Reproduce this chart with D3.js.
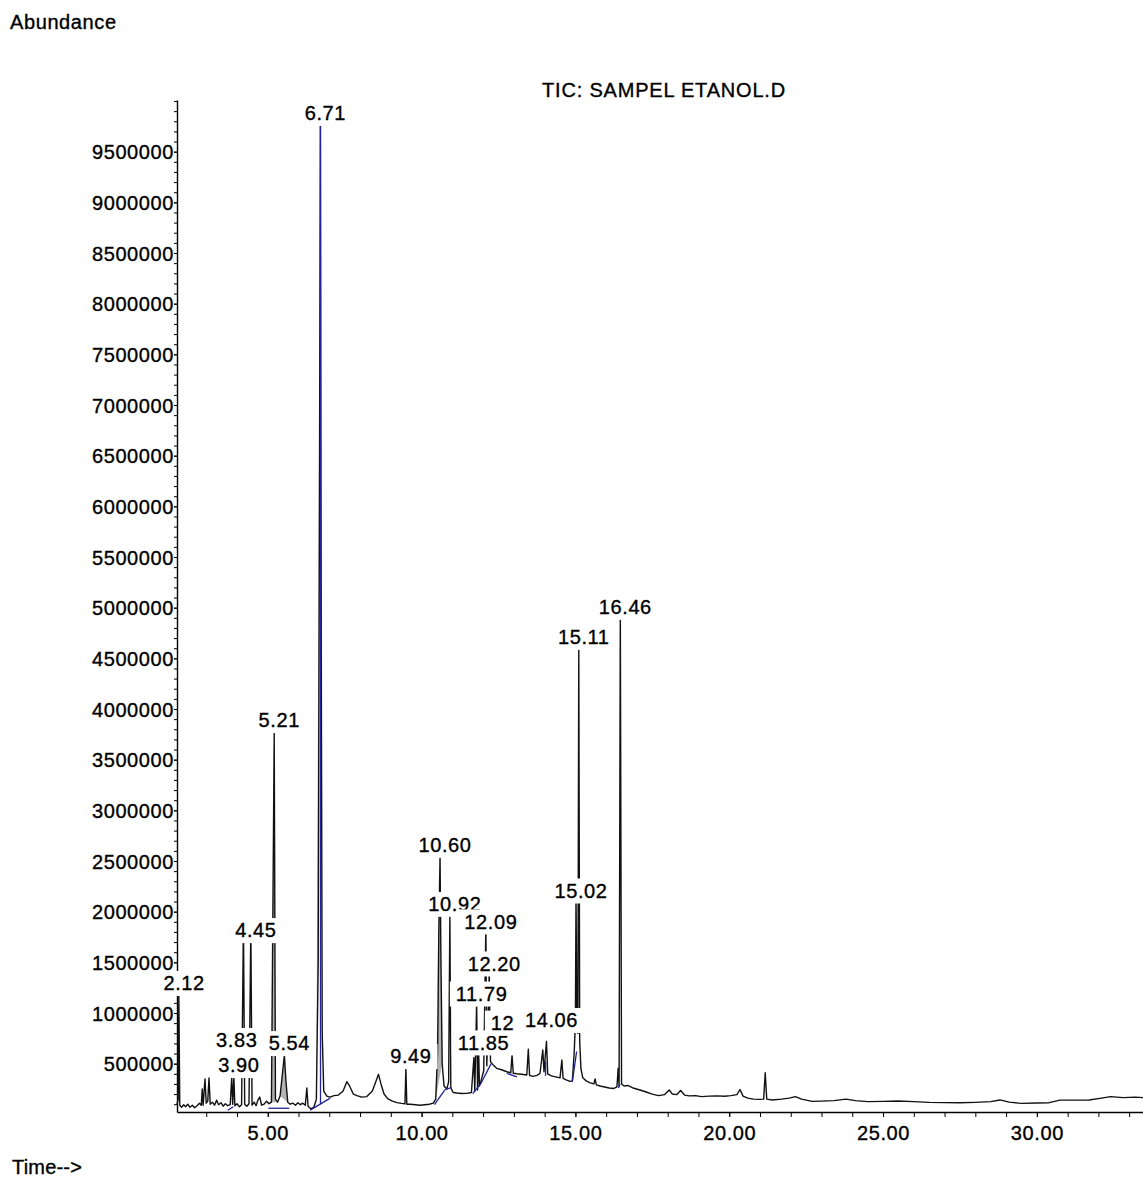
<!DOCTYPE html>
<html>
<head>
<meta charset="utf-8">
<script src="https://cdn.jsdelivr.net/npm/d3@7/dist/d3.min.js"></script>
<style>
  body { margin: 0; background: #fff; }
  svg text { font-family: "Liberation Sans", Arial, sans-serif; fill: #000; stroke: #000; stroke-width: 0.35px; }
</style>
</head>
<body>
<script>
// chromatogram trace (time in min, abundance)
const traceTime = [
  2.05, 2.09, 2.11, 2.14, 2.20, 2.27, 2.33, 2.40, 2.47, 2.55, 2.62, 2.70, 2.78, 2.84, 2.87, 2.90,
  2.96, 3.00, 3.05, 3.09, 3.13, 3.20, 3.27, 3.34, 3.40, 3.48, 3.55, 3.62, 3.70, 3.78, 3.83, 3.86,
  3.90, 3.93, 4.00, 4.08, 4.15, 4.21, 4.25, 4.32, 4.39, 4.45, 4.49, 4.56, 4.62, 4.68, 4.74, 4.80,
  4.88, 4.96, 5.04, 5.12, 5.21, 5.25, 5.32, 5.40, 5.47, 5.54, 5.59, 5.65, 5.73, 5.82, 5.90, 5.98,
  6.06, 6.14, 6.22, 6.27, 6.31, 6.40, 6.50, 6.58, 6.64, 6.68, 6.71, 6.74, 6.77, 6.82, 6.92, 7.03,
  7.15, 7.30, 7.45, 7.57, 7.66, 7.78, 7.90, 8.05, 8.22, 8.40, 8.52, 8.60, 8.68, 8.78, 8.90, 9.05,
  9.20, 9.35, 9.46, 9.49, 9.52, 9.63, 9.80, 9.95, 10.10, 10.25, 10.38, 10.46, 10.52, 10.56, 10.60, 10.63,
  10.67, 10.73, 10.82, 10.88, 10.92, 10.95, 11.03, 11.15, 11.30, 11.47, 11.62, 11.70, 11.73, 11.79, 11.82, 11.85,
  11.88, 11.95, 12.02, 12.09, 12.12, 12.20, 12.24, 12.32, 12.44, 12.60, 12.77, 12.90, 12.94, 12.98, 13.10, 13.25,
  13.42, 13.47, 13.51, 13.62, 13.75, 13.85, 13.94, 13.98, 14.06, 14.10, 14.22, 14.36, 14.50, 14.56, 14.60, 14.70,
  14.82, 14.90, 14.96, 15.00, 15.02, 15.05, 15.08, 15.11, 15.14, 15.18, 15.24, 15.35, 15.48, 15.60, 15.64, 15.68,
  15.80, 15.95, 16.10, 16.25, 16.35, 16.39, 16.42, 16.46, 16.50, 16.58, 16.70, 16.90, 17.10, 17.30, 17.50, 17.70,
  17.90, 18.05, 18.15, 18.30, 18.42, 18.55, 18.70, 18.90, 19.10, 19.35, 19.60, 19.85, 20.05, 20.25, 20.35, 20.45,
  20.60, 20.80, 21.00, 21.12, 21.17, 21.22, 21.40, 21.70, 21.95, 22.15, 22.35, 22.70, 23.00, 23.40, 23.80, 24.10,
  24.50, 25.00, 25.50, 26.00, 26.50, 27.00, 27.50, 28.00, 28.50, 28.80, 29.10, 29.50, 30.00, 30.40, 30.75, 31.20,
  31.70, 32.10, 32.40, 32.80, 33.20, 33.45
];
const traceAbundance = [
  100000, 150000, 1170000, 90000, 70000, 95000, 75000, 100000, 70000, 90000, 65000, 85000, 110000, 90000, 250000, 90000,
  350000, 110000, 130000, 360000, 100000, 120000, 90000, 140000, 95000, 115000, 80000, 105000, 85000, 95000, 370000, 100000,
  360000, 85000, 105000, 75000, 95000, 1900000, 100000, 80000, 105000, 1850000, 90000, 120000, 85000, 140000, 170000, 90000,
  100000, 130000, 105000, 120000, 3766000, 150000, 120000, 180000, 380000, 585000, 330000, 120000, 100000, 110000, 90000, 115000,
  95000, 110000, 90000, 260000, 80000, 55000, 70000, 150000, 1500000, 6000000, 9750000, 4500000, 800000, 230000, 180000, 170000,
  185000, 190000, 230000, 322000, 280000, 200000, 185000, 170000, 175000, 230000, 330000, 395000, 300000, 200000, 155000, 130000,
  115000, 108000, 105000, 457000, 100000, 100000, 95000, 90000, 95000, 100000, 110000, 150000, 600000, 1800000, 2540000, 1500000,
  500000, 280000, 250000, 320000, 1970000, 260000, 215000, 210000, 205000, 207000, 215000, 560000, 225000, 1100000, 240000, 700000,
  280000, 350000, 430000, 1850000, 480000, 1400000, 520000, 490000, 454000, 440000, 420000, 410000, 585000, 405000, 400000, 395000,
  388000, 642000, 385000, 375000, 385000, 405000, 635000, 420000, 720000, 400000, 380000, 370000, 360000, 536000, 355000, 340000,
  325000, 330000, 600000, 900000, 2180000, 850000, 800000, 4620000, 720000, 450000, 360000, 330000, 310000, 300000, 350000, 290000,
  280000, 270000, 260000, 255000, 270000, 454000, 280000, 4960000, 300000, 280000, 285000, 257000, 240000, 220000, 200000, 185000,
  195000, 240000, 200000, 195000, 235000, 190000, 182000, 185000, 175000, 180000, 182000, 178000, 185000, 195000, 245000, 180000,
  160000, 150000, 148000, 150000, 411000, 150000, 142000, 150000, 160000, 175000, 150000, 128000, 130000, 135000, 150000, 135000,
  125000, 128000, 132000, 125000, 118000, 116000, 114000, 118000, 125000, 142000, 120000, 108000, 112000, 115000, 140000, 140000,
  142000, 160000, 175000, 165000, 170000, 165000
];

// peaks whose integrated body shows grey: [start, end] in min
const shadedPeaks = [[5.12, 5.32], [5.40, 5.65], [6.58, 6.71], [10.46, 10.67]];

// integration baselines (blue): [t1, abundance1, t2, abundance2]
const baselineSegments = [
  [3.70, 40000, 3.88, 75000],
  [5.02, 60000, 5.70, 60000],
  [6.38, 42000, 7.03, 160000],
  [6.715, 100000, 6.715, 9750000],
  [10.42, 95000, 10.75, 240000],
  [10.75, 240000, 10.97, 265000],
  [11.66, 205000, 11.92, 300000],
  [11.92, 300000, 12.26, 500000],
  [12.77, 405000, 13.10, 370000],
  [14.03, 380000, 14.03, 520000],
  [14.90, 320000, 15.04, 620000],
  [16.40, 260000, 16.45, 300000]
];

// peak labels, in the order they are drawn
const labelTexts  = ["2.12", "3.83", "3.90", "4.45", "5.21", "5.54", "6.71", "9.49", "10.60", "10.92",
                     "11.79", "11.85", "12.09", "12.20", "12", "14.06", "15.02", "15.11", "16.46"];
const labelTimes  = [2.12, 3.83, 3.90, 4.45, 5.21, 5.54, 6.71, 9.49, 10.60, 10.92,
                     11.79, 11.85, 12.09, 12.20, 12.47, 14.06, 15.02, 15.11, 16.46];
const labelLevels = [1296000, 733000, 487000, 1818000, 3891000, 703000, 9884000, 575000, 2660000, 2077000,
                     1192000, 710000, 1904000, 1489000, 905000, 931000, 2209000, 4712000, 5008000];

const yTickValues = d3.range(500000, 9500001, 500000);
const yMinorValues = d3.range(100000, 10000001, 100000);
const xTickValues = [5, 10, 15, 20, 25, 30];
const xMinorValues = d3.range(3, 34, 1);

let width = 1143, height = 1178;
let plot = {left: 177, right: 1143, top: 100, bottom: 1112};

let svg = d3.select("body").append("svg")
    .attr("width", width)
    .attr("height", height);

let x = d3.scaleLinear().domain([2.05, 33.45]).range([plot.left, plot.right]);
let y = d3.scaleLinear().domain([23000, 10010000]).range([plot.bottom, plot.top]);

// axes
let yMinor = svg.append("g")
    .attr("transform", "translate(" + plot.left + ",0)")
    .call(d3.axisLeft(y).tickValues(yMinorValues).tickSize(3).tickSizeOuter(0).tickFormat(""));
yMinor.selectAll("line").attr("stroke", "#000");
yMinor.select(".domain").attr("stroke", "#000").attr("stroke-width", 1.4);

let yAxis = svg.append("g")
    .attr("transform", "translate(" + plot.left + ",0)")
    .call(d3.axisLeft(y).tickValues(yTickValues).tickSize(3).tickPadding(0).tickSizeOuter(0)
        .tickFormat(d3.format("d")));
yAxis.select(".domain").remove();
yAxis.selectAll("text")
    .attr("dy", "0.36em")
    .attr("font-size", "20px")
    .attr("letter-spacing", "0.6px");

let xMinor = svg.append("g")
    .attr("transform", "translate(0," + plot.bottom + ")")
    .call(d3.axisBottom(x).tickValues(xMinorValues).tickSize(5).tickSizeOuter(0).tickFormat(""));
xMinor.select(".domain").attr("stroke-width", 1.4);

let xAxis = svg.append("g")
    .attr("transform", "translate(0," + plot.bottom + ")")
    .call(d3.axisBottom(x).tickValues(xTickValues).tickSize(5).tickPadding(9).tickSizeOuter(0)
        .tickFormat(d3.format(".2f")));
xAxis.select(".domain").remove();
xAxis.selectAll("text")
    .attr("font-size", "20px")
    .attr("letter-spacing", "0.6px");

// trace
let points = traceTime.map(function (t, i) { return [t, traceAbundance[i]]; });

// grey body of a peak, filled down to the straight line joining its two ends
svg.selectAll("path.shade")
    .data(shadedPeaks)
    .enter()
    .append("path")
    .attr("class", "shade")
    .attr("fill", "#b4b4b4")
    .attr("d", function (r) {
        let pts = points.filter(function (p) { return p[0] >= r[0] && p[0] <= r[1]; });
        let a = pts[0], b = pts[pts.length - 1];
        let base = d3.scaleLinear().domain([a[0], b[0]]).range([a[1], b[1]]);
        return d3.area()
            .x(function (d) { return x(d[0]); })
            .y0(function (d) { return y(base(d[0])); })
            .y1(function (d) { return y(d[1]); })(pts);
    });

svg.append("path")
    .datum(points)
    .attr("fill", "none")
    .attr("stroke", "#111")
    .attr("stroke-width", 1.4)
    .attr("stroke-linejoin", "round")
    .attr("d", d3.line().x(function (d) { return x(d[0]); }).y(function (d) { return y(d[1]); }));

svg.selectAll("line.base")
    .data(baselineSegments)
    .enter()
    .append("line")
    .attr("class", "base")
    .attr("x1", function (d) { return x(d[0]); })
    .attr("y1", function (d) { return y(d[1]); })
    .attr("x2", function (d) { return x(d[2]); })
    .attr("y2", function (d) { return y(d[3]); })
    .attr("stroke", "#23239a")
    .attr("stroke-width", 1.3);

// peak labels with white boxes, later ones cover earlier ones
labelTexts.forEach(function (label, i) {
    let g = svg.append("g");
    let box = g.append("rect").attr("fill", "#fff");
    let cy = y(labelLevels[i]);
    let txt = g.append("text")
        .attr("x", x(labelTimes[i]) + 5)
        .attr("y", cy)
        .attr("dy", "0.36em")
        .attr("text-anchor", "middle")
        .attr("font-size", "20px")
        .attr("letter-spacing", "0.6px")
        .text(label);
    let bb = txt.node().getBBox();
    box.attr("x", bb.x - 6)
        .attr("y", cy - 12)
        .attr("width", bb.width + 12)
        .attr("height", 25);
});

// titles
svg.append("text")
    .attr("x", 10).attr("y", 22).attr("dy", "0.36em")
    .attr("font-size", "20px").attr("letter-spacing", "0.6px")
    .text("Abundance");

svg.append("text")
    .attr("x", 664).attr("y", 90).attr("dy", "0.36em")
    .attr("text-anchor", "middle")
    .attr("font-size", "20px").attr("letter-spacing", "0.8px")
    .text("TIC: SAMPEL ETANOL.D");

svg.append("text")
    .attr("x", 12).attr("y", 1167).attr("dy", "0.36em")
    .attr("font-size", "20px").attr("letter-spacing", "0.2px")
    .text("Time-->");
</script>
</body>
</html>
